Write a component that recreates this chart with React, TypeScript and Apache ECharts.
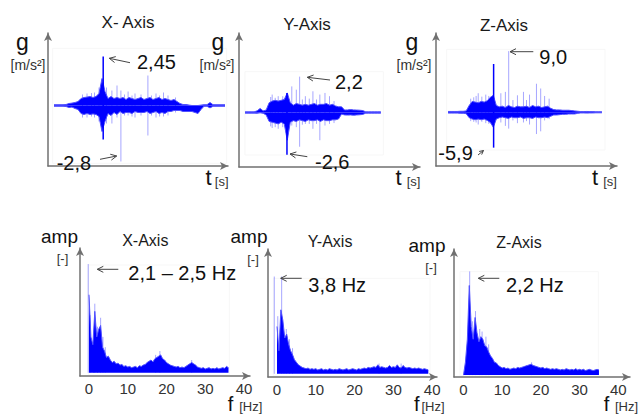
import React, { useEffect, useRef } from 'react';
import * as echarts from 'echarts';

const FONT = '"Liberation Sans", Arial, Helvetica, sans-serif';

// ---------- time signals (acceleration, m/s²), 1 s bins ----------
const xAxisStart = 2;
const xAxisHi = [0.04,0.04,0.04,0.04,0.05, 0.1,0.12,0.15,0.2, 0.35,0.4,0.42,0.45,0.4,0.45,0.6, 1.35,0.7,
  0.35,0.45,0.35,0.4,0.35,0.4,0.3,0.4,0.35,0.3, 0.35,0.4,0.3,0.35,0.4,0.3,0.35,0.4,0.3,0.35,
  0.3,0.25,0.3,0.2,0.1,0.05,0.05,0.02,0,0, 0,0.02,0.04,0.04,0.15,0.04,0.04,0.04,0.04,0.04];
const xAxisLo = [-0.04,-0.04,-0.04,-0.04,-0.05, -0.1,-0.08,-0.15,-0.2, -0.4,-0.45,-0.4,-0.45,-0.42,-0.45,-0.55, -1.3,-0.8,
  -0.4,-0.5,-0.35,-0.45,-0.3,-0.4,-0.35,-0.35,-0.4,-0.3, -0.35,-0.35,-0.35,-0.3,-0.4,-0.35,-0.3,-0.4,-0.35,-0.4,
  -0.3,-0.3,-0.25,-0.25,-0.25,-0.3,-0.3,-0.3,-0.3,-0.35, -0.4,-0.2,-0.04,-0.04,-0.12,-0.04,-0.04,-0.04,-0.04,-0.04];
const xAxisPeak = [[18.4, 2.45, -1.7]];
const xAxisSpikes = [[11.5, 0.55, -0.6], [13, 0.6, -0.6], [14.5, 0.62, -0.55], [15.5, 0.65, -0.6], [17, 0.9, -0.8],
  [19.5, 0.9, -0.9], [21.3, 0.75, -0.9], [23, 1.0, -0.6], [24.3, 0.75, -2.8], [25.5, 0.55, -0.5],
  [26.7, 0.7, -0.5], [28, 0.5, -0.55], [29, 0.6, -0.6], [31, 0.55, -0.5], [33.3, 1.5, -1.5], [34.5, 0.5, -0.5],
  [36, 0.6, -0.6], [37.2, 0.5, -0.55], [38.5, 0.65, -0.55], [40, 0.5, -0.5], [42.5, 0.4, -0.35]];

const yAxisStart = 2;
const yAxisHi = [0.04,0.04,0.04,0.04, 0.1,0.25,0.1,0.15, 0.6,0.7,0.75,0.7,0.75,0.8,
  1.2,0.6,0.45,0.55,0.5,0.45,0.5,0.45,0.5,0.55, 0.45,0.5,0.5,0.55,0.45,0.5,0.4,0.35,0.35,0.15,
  0.16,0.18,0.16,0.15,0.14,0.12, 0.04,0.04,0.04,0.04,0.04,0.04];
const yAxisLo = [-0.04,-0.04,-0.04,-0.04, -0.05,-0.02,-0.05,-0.15, -0.55,-0.6,-0.65,-0.7,-0.6,-0.7,
  -1.7,-0.6,-0.5,-0.55,-0.45,-0.5,-0.55,-0.45,-0.5,-0.5, -0.45,-0.55,-0.45,-0.5,-0.5,-0.45,-0.45,-0.4,-0.1,-0.15,
  -0.16,-0.15,-0.17,-0.15,-0.14,-0.12, -0.04,-0.04,-0.04,-0.04,-0.04,-0.04];
const yAxisPeak = [[15.9, 1.2, -2.6]];
const yAxisSpikes = [[10.5, 0.95, -0.85], [11, 1.1, -0.95], [12, 0.9, -0.9], [13, 1.0, -1.0], [14.5, 1.0, -0.9],
  [17.5, 1.6, -0.8], [19, 1.4, -0.9], [20.1, 2.2, -2.1], [21, 0.8, -0.75], [22, 1.0, -0.7], [23.3, 0.85, -0.7],
  [24.5, 1.3, -1.0], [25.7, 0.8, -0.7], [26.8, 1.1, -1.7], [28.5, 1.2, -0.8], [30, 1.0, -0.7], [31.5, 0.7, -0.65]];

const zAxisStart = 4;
const zAxisHi = [0.12,0.12,0.12,0.12,0.15,0.15,0.2, 1.0,1.6,1.5,1.4,1.6,1.5,1.7,2.2,2.5,
  1.0,0.8,0.9,0.7,1.0,0.8,0.7,0.9,0.8,0.8, 0.9,0.7,1.0,0.8,0.9,0.7,0.8,0.9,0.6,0.4,
  0.35,0.35,0.3,0.3,0.3,0.25,0.2,0.15, 0.1,0.1,0.12,0.1,0.1,0.08,0.08,0.08];
const zAxisLo = [-0.12,-0.12,-0.12,-0.12,-0.15,-0.15,-0.2, -0.8,-1.0,-1.1,-1.0,-1.1,-1.0,-1.2,-1.5,-2.2,
  -1.0,-0.8,-0.7,-0.8,-0.9,-0.7,-0.8,-0.8,-0.7,-0.9, -0.8,-0.8,-0.9,-0.7,-0.8,-0.8,-0.7,-0.8,-0.6,-0.4,
  -0.4,-0.35,-0.3,-0.3,-0.25,-0.25,-0.25,-0.15, -0.1,-0.1,-0.12,-0.1,-0.1,-0.08,-0.08,-0.08];
const zAxisPeak = [[19.1, 7.1, -5.2]];
const zAxisSpikes = [[11.5, 2.0, -1.3], [12.5, 2.2, -1.4], [13.3, 2.4, -1.5], [14, 2.8, -1.8], [15.2, 2.3, -1.4],
  [16.5, 2.6, -1.6], [17.5, 2.4, -1.7], [21.5, 2.8, -1.5], [23, 3.0, -2.0], [24.1, 9.0, -2.4], [25.5, 1.8, -1.2],
  [27, 2.5, -1.6], [29, 3.0, -1.5], [30, 1.8, -1.3], [31, 2.6, -1.8], [33.3, 4.2, -3.2], [34.7, 3.5, -2.8],
  [36, 2.4, -1.2], [37.5, 2.0, -1.0]];

// ---------- spectra (amplitude, 0.5 Hz bins) ----------
const fStep = 0.5;
const fftX = [0.61,0.28,0.22,0.48,0.28,0.34,0.37,0.2,0.17,0.12, 0.13,0.1,0.08,0.09,0.07,0.075,0.06,0.065,0.05,0.055,
  0.045,0.05,0.04,0.045,0.05,0.04,0.055,0.05,0.06,0.065, 0.08,0.09,0.1,0.085,0.11,0.12,0.13,0.14,0.11,0.1,
  0.08,0.07,0.06,0.055,0.05,0.045,0.05,0.04,0.045,0.04, 0.05,0.06,0.07,0.08,0.07,0.06,0.045,0.04,0.035,0.04,
  0.03,0.035,0.04,0.03,0.035,0.03,0.04,0.03,0.035,0.04, 0.035,0.05,0.04];
const fftXSpikes = [[-0.2, 0.85], [0.3, 0.45], [1.2, 0.3], [1.5, 0.54], [2.2, 0.36], [3.0, 0.43], [3.6, 0.28],
  [4.2, 0.2], [17.2, 0.14], [18.3, 0.17], [26.5, 0.1]];

const fftY = [0.37,0.18,0.5,0.42,0.28,0.31,0.23,0.18,0.15,0.11, 0.09,0.07,0.06,0.05,0.045,0.04,0.045,0.035,0.04,0.035,
  0.04,0.03,0.035,0.04,0.03,0.035,0.03,0.04,0.035,0.03, 0.035,0.03,0.04,0.035,0.03,0.035,0.04,0.03,0.035,0.04,
  0.035,0.03,0.04,0.035,0.04,0.045,0.04,0.05,0.045,0.05, 0.055,0.05,0.07,0.05,0.055,0.05,0.045,0.05,0.065,0.05,
  0.055,0.05,0.07,0.05,0.045,0.065,0.05,0.045,0.05,0.045, 0.04,0.045,0.04,0.045,0.04,0.035,0.04,0.035,0.03];
const fftYSpikes = [[-0.7, 0.76], [0.2, 0.45], [1.2, 0.76], [1.8, 0.3], [2.4, 0.35], [3.2, 0.27], [4, 0.2],
  [26.3, 0.08], [32, 0.08]];

const fftZ = [0.0,0.1,0.28,0.7,0.38,0.28,0.45,0.33,0.26,0.3, 0.28,0.23,0.22,0.18,0.15,0.13,0.1,0.095,0.075,0.065,
  0.055,0.06,0.05,0.055,0.045,0.05,0.055,0.05,0.06,0.055, 0.06,0.065,0.07,0.075,0.08,0.085,0.075,0.07,0.065,0.06,
  0.055,0.06,0.05,0.055,0.05,0.045,0.05,0.045,0.05,0.045, 0.04,0.045,0.04,0.05,0.045,0.04,0.045,0.04,0.05,0.04,
  0.045,0.04,0.045,0.035,0.04,0.045,0.04,0.035,0.04,0.045, 0.04];
const fftZSpikes = [[1.6, 0.81], [2.3, 0.42], [3.1, 0.5], [4.2, 0.36], [4.8, 0.34], [5.8, 0.3], [6.5, 0.24], [17.6, 0.1]];

const freqTicks = [0, 10, 20, 30, 40];

const BLUE = '#0000ff';
const HALO = '#5050ff';
const LIGHT = 'rgba(60,60,255,0.45)';
const AXIS = '#707070';

const pairs = (start: number, step: number, arr: number[]) => arr.map((v, i) => [start + i * step, v]);

function band(idx: number, data: number[][]) {
  return {
    type: 'line', xAxisIndex: idx, yAxisIndex: idx, data, showSymbol: false, symbol: 'none', silent: true, z: 3,
    lineStyle: { color: HALO, width: 1 }, areaStyle: { color: BLUE, opacity: 1 },
  };
}
function spikes(idx: number, data: number[][], color: string, width: number, z: number) {
  return {
    type: 'custom', xAxisIndex: idx, yAxisIndex: idx, data, silent: true, z,
    encode: { x: 0, y: [1, 2] },
    renderItem: (_p: any, api: any) => {
      const a = api.coord([api.value(0), api.value(1)]);
      const b = api.coord([api.value(0), api.value(2)]);
      return { type: 'line', shape: { x1: a[0], y1: a[1], x2: b[0], y2: b[1] }, style: { stroke: color, lineWidth: width } };
    },
  };
}

const axisLine = { show: true, onZero: false, symbol: ['none', 'arrow'], symbolSize: [6, 8], lineStyle: { color: AXIS, width: 1.5 } };
function xAx(grid: number, min: number, max: number, labels: boolean) {
  return {
    type: 'value', gridIndex: grid, min, max, axisLine,
    axisTick: { show: false }, splitLine: { show: false },
    axisLabel: labels
      ? { show: true, customValues: freqTicks, fontSize: 15, color: '#333', margin: 5, fontFamily: FONT }
      : { show: false },
  };
}
function yAx(grid: number, min: number, max: number) {
  return { type: 'value', gridIndex: grid, min, max, axisLine, axisTick: { show: false }, splitLine: { show: false }, axisLabel: { show: false } };
}

function txt(text: string, x: number, y: number, fontSize: number, fill = '#111') {
  return { type: 'text', x, y, silent: true, z: 10, style: { text, fontSize, fontFamily: FONT, fill, align: 'center', verticalAlign: 'middle' } };
}
function txtL(text: string, x: number, y: number, fontSize: number, fill = '#111') {
  return { type: 'text', x, y, silent: true, z: 10, style: { text, fontSize, fontFamily: FONT, fill, align: 'left', verticalAlign: 'middle' } };
}
function arrow(x1: number, y1: number, x2: number, y2: number, head = 6, half = 3) {
  const dx = x2 - x1, dy = y2 - y1, L = Math.hypot(dx, dy);
  const ux = dx / L, uy = dy / L;
  const bx = x2 - ux * head, by = y2 - uy * head;
  const px = -uy, py = ux;
  const st = { stroke: '#444', lineWidth: 1, fill: 'none' };
  return [
    { type: 'line', silent: true, z: 10, shape: { x1, y1, x2, y2 }, style: st },
    { type: 'polyline', silent: true, z: 10, shape: { points: [[bx + px * half, by + py * half], [x2, y2], [bx - px * half, by - py * half]] }, style: st },
  ];
}
function box(x: number, y: number, w: number, h: number) {
  return { type: 'rect', silent: true, z: -1, shape: { x, y, width: w, height: h }, style: { stroke: '#f7f7f7', lineWidth: 1, fill: 'none' } };
}

export default function App() {
  const ref = useRef<HTMLDivElement>(null);
  useEffect(() => {
    const chart = echarts.init(ref.current as HTMLDivElement, null, { renderer: 'svg' });
    const option: any = {
      animation: false,
      backgroundColor: '#fff',
      grid: [
        { left: 48, top: 33, width: 180, height: 133 },
        { left: 239, top: 33, width: 181, height: 134 },
        { left: 436, top: 33, width: 181, height: 133 },
        { left: 80, top: 248, width: 170, height: 128 },
        { left: 268, top: 249, width: 169, height: 128 },
        { left: 454, top: 249, width: 176, height: 128 },
      ],
      xAxis: [
        xAx(0, 0, 60, false), xAx(1, 0, 60, false), xAx(2, 0, 60, false),
        xAx(3, -2.32, 41.55, true), xAx(4, -2.32, 41.24, true), xAx(5, -2.45, 43.02, true),
      ],
      yAxis: [
        yAx(0, -3.025, 3.625), yAx(1, -3.344, 4.877), yAx(2, -7.9, 11.66),
        yAx(3, -0.025, 0.975), yAx(4, -0.025, 0.975), yAx(5, -0.015, 0.985),
      ],
      series: [
        spikes(0, xAxisSpikes, LIGHT, 1, 1),
        band(0, pairs(xAxisStart, 1, xAxisHi)), band(0, pairs(xAxisStart, 1, xAxisLo)),
        spikes(0, xAxisPeak, BLUE, 1.5, 4),
        spikes(1, yAxisSpikes, LIGHT, 1, 1),
        band(1, pairs(yAxisStart, 1, yAxisHi)), band(1, pairs(yAxisStart, 1, yAxisLo)),
        spikes(1, yAxisPeak, BLUE, 1.5, 4),
        spikes(2, zAxisSpikes, LIGHT, 1, 1),
        band(2, pairs(zAxisStart, 1, zAxisHi)), band(2, pairs(zAxisStart, 1, zAxisLo)),
        spikes(2, zAxisPeak, BLUE, 1.5, 4),
        spikes(3, fftXSpikes.map(([f, a]) => [f, a, 0]), LIGHT, 1, 1),
        band(3, pairs(0, fStep, fftX)),
        spikes(4, fftYSpikes.map(([f, a]) => [f, a, 0]), LIGHT, 1, 1),
        band(4, pairs(0, fStep, fftY)),
        spikes(5, fftZSpikes.map(([f, a]) => [f, a, 0]), LIGHT, 1, 1),
        band(5, pairs(0, fStep, fftZ)),
      ],
      graphic: {
        elements: [
          box(52.7, 48.3, 174, 115), box(245, 71.7, 138.3, 83.3), box(446.7, 49.3, 158.3, 100.7),
          box(88.3, 265, 141, 110), box(273.3, 278.3, 156.7, 97.7), box(460, 271.7, 138.3, 104.3),
          // titles
          txt('X- Axis', 128, 22.5, 17, '#1a1a1a'), txt('Y-Axis', 307, 24.2, 17, '#1a1a1a'), txt('Z-Axis', 504, 25.8, 17, '#1a1a1a'),
          txt('X-Axis', 145.3, 240.3, 16, '#1a1a1a'), txt('Y-Axis', 330, 241.5, 16, '#1a1a1a'), txt('Z-Axis', 519, 242.5, 16, '#1a1a1a'),
          // unit labels, top row
          txt('g', 22.5, 42, 23), txt('[m/s²]', 28, 65, 14, '#333'),
          txt('g', 218, 42, 23), txt('[m/s²]', 217, 65, 14, '#333'),
          txt('g', 412, 42, 23), txt('[m/s²]', 414, 65, 14, '#333'),
          txt('t', 208.5, 177.5, 22), txt('[s]', 221.7, 181, 13, '#333'),
          txt('t', 398.5, 177.5, 22), txt('[s]', 413.5, 181, 13, '#333'),
          txt('t', 595, 177.5, 22), txt('[s]', 610, 181, 13, '#333'),
          // unit labels, bottom row
          txt('amp', 59.5, 236.6, 19), txt('[-]', 62.5, 258, 13, '#333'),
          txt('amp', 249, 236.6, 19), txt('[-]', 253, 259, 13, '#333'),
          txt('amp', 427, 245, 19), txt('[-]', 431, 267, 13, '#333'),
          txt('f', 230.5, 404, 20), txt('[Hz]', 250.8, 406, 13, '#333'),
          txt('f', 416.7, 404, 20), txt('[Hz]', 433, 406, 13, '#333'),
          txt('f', 606.5, 404, 20), txt('[Hz]', 626.5, 406, 13, '#333'),
          // annotations
          txtL('2,45', 137, 61.7, 20), txtL('-2,8', 56.7, 162.5, 20),
          txtL('2,2', 335, 81.7, 20), txtL('-2,6', 315, 162, 20),
          txtL('9,0', 539.3, 56.7, 20), txtL('-5,9', 438.3, 153.3, 20),
          txtL('2,1 – 2,5 Hz', 128.3, 273.3, 20), txtL('3,8 Hz', 308.3, 285, 20), txtL('2,2 Hz', 506, 285, 20),
          ...arrow(130, 62.7, 109.3, 58.3),
          ...arrow(100, 159.3, 116.7, 156),
          ...arrow(330, 80, 307.3, 77.3),
          ...arrow(307.3, 156.7, 290, 154),
          ...arrow(533.3, 51.7, 510, 51.7),
          ...arrow(478, 155, 483.5, 150.5, 4, 2),
          ...arrow(118.3, 269.3, 97.3, 269.3),
          ...arrow(301.7, 278.3, 280.7, 278.3),
          ...arrow(499.3, 278.3, 478.3, 278.3),
        ],
      },
    };
    chart.setOption(option);
    return () => chart.dispose();
  }, []);
  return <div ref={ref} style={{ position: 'absolute', left: 0, top: 0, width: 638, height: 415, background: '#fff' }} />;
}
